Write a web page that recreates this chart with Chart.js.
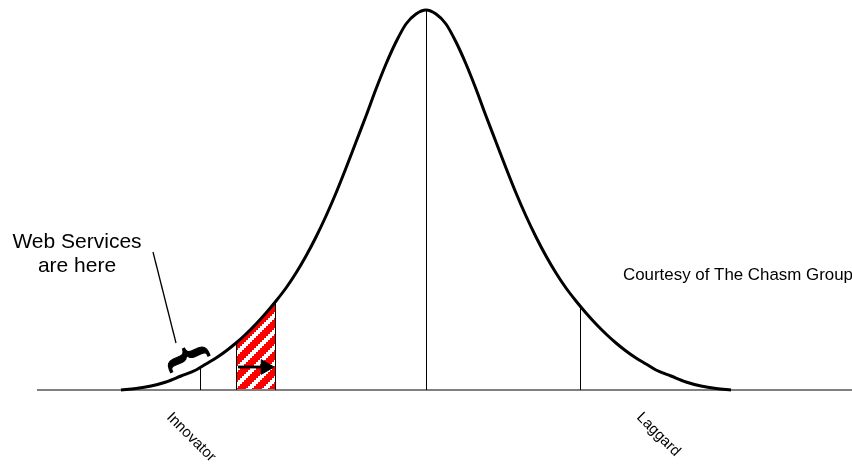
<!DOCTYPE html>
<html>
<head>
<meta charset="utf-8">
<script src="https://cdn.jsdelivr.net/npm/chart.js@4.4.1/dist/chart.umd.min.js"></script>
<style>
html, body { margin: 0; padding: 0; background: #fff; }
canvas { display: block; }
</style>
</head>
<body>
<canvas id="chasm" width="852" height="468"></canvas>
<script>
// adoption curve (x position, height above baseline)
const curveX = [121, 136, 151, 166, 181, 196, 206, 216, 226, 236, 246, 256, 266, 276, 286, 296, 306, 316,
  326, 336, 346, 356, 366, 376, 386, 396, 406, 416, 426,
  436, 446, 456, 466, 476, 486, 496, 506, 516, 526, 536, 546, 556, 566, 576, 586, 596, 606, 616,
  626, 636, 646, 656, 671, 686, 701, 716, 731];
const curveY = [0, 1.5, 4, 8, 14, 20, 26, 32, 39, 47, 56, 66, 77, 89, 102, 117, 134, 153,
  174, 197, 222, 248, 274, 301, 326, 348, 366, 376, 380,
  376, 366, 348, 326, 301, 274, 248, 222, 197, 174, 153, 134, 117, 102, 89, 77, 66, 56, 47,
  39, 32, 26, 20, 14, 8, 4, 1.5, 0];

// segment dividers under the curve
const dividerX = [200.5, 426.5, 580.5];
const dividerTop = [22, 380, 84];

// hatched "here" slice
const hatchX = [236.5, 246, 256, 266, 275.5];
const hatchY = [47, 56, 66, 77, 88.5];

// arrow inside the slice
const arrowX = [238, 265.5];
const arrowY = [23, 23];

// leader line from the note to the brace
const leaderX = [153, 176];
const leaderY = [138, 47];

const axisX = [37, 852];
const stageLabels = ['Innovator', 'Laggard'];
const noteLines = ['Web Services', 'are here'];
const creditText = 'Courtesy of The Chasm Group';

const toPoints = (xs, ys) => xs.map((x, i) => ({ x: x, y: ys[i] }));

// red / white diagonal stripes, blocky like the original fill
const makeStripes = () => {
  const size = 16;
  const step = 2;
  const c = document.createElement('canvas');
  c.width = size;
  c.height = size;
  const g = c.getContext('2d');
  const img = g.createImageData(size, size);
  for (let j = 0; j < size; j++) {
    for (let i = 0; i < size; i++) {
      const k = (j * size + i) * 4;
      const red = ((Math.floor(i / step) * step + Math.floor(j / step) * step) % size) < 9;
      img.data[k] = 255;
      img.data[k + 1] = red ? 0 : 255;
      img.data[k + 2] = red ? 0 : 255;
      img.data[k + 3] = 255;
    }
  }
  g.putImageData(img, 0, 0);
  return g.createPattern(c, 'repeat');
};

const lineSet = (data, color, width, extra) => Object.assign({
  data: data,
  borderColor: color,
  borderWidth: width,
  pointRadius: 0,
  fill: false,
  tension: 0,
  clip: false
}, extra || {});

const datasets = [
  lineSet(toPoints(arrowX, arrowY), '#000', 2.8, {
    pointRadius: [0, 8.5],
    pointStyle: 'triangle',
    rotation: 90,
    pointBackgroundColor: '#000',
    pointBorderColor: '#000',
    pointBorderWidth: 1
  }),
  lineSet(toPoints(curveX, curveY), '#000', 3, { cubicInterpolationMode: 'monotone' }),
  lineSet(toPoints(leaderX, leaderY), '#000', 1.3),
  ...dividerX.map((x, i) => lineSet(toPoints([x, x], [0, dividerTop[i]]), '#000', 1)),
  lineSet(toPoints([hatchX[0], hatchX[0]], [0, hatchY[0]]), '#000', 1),
  lineSet(toPoints([hatchX[hatchX.length - 1], hatchX[hatchX.length - 1]], [0, hatchY[hatchY.length - 1]]), '#000', 1),
  lineSet(toPoints(axisX, [0, 0]), '#808080', 2),
  lineSet(toPoints(hatchX, hatchY), 'rgba(0,0,0,0)', 0, { fill: 'origin', backgroundColor: makeStripes() })
];

const notesPlugin = {
  id: 'notes',
  afterDraw(chart) {
    const ctx = chart.ctx;
    const x = chart.scales.x;
    const y = chart.scales.y;
    ctx.save();
    ctx.fillStyle = '#000';

    // note text
    ctx.font = '21px "Liberation Sans", Arial, sans-serif';
    ctx.textAlign = 'center';
    ctx.textBaseline = 'alphabetic';
    ctx.fillText(noteLines[0], x.getPixelForValue(77), y.getPixelForValue(142));
    ctx.fillText(noteLines[1], x.getPixelForValue(77), y.getPixelForValue(118));

    // credit
    ctx.font = '16.9px "Liberation Sans", Arial, sans-serif';
    ctx.textAlign = 'left';
    ctx.fillText(creditText, x.getPixelForValue(623), y.getPixelForValue(110));

    // brace
    ctx.save();
    ctx.translate(x.getPixelForValue(186), y.getPixelForValue(33));
    ctx.rotate(66 * Math.PI / 180);
    ctx.font = 'bold 52px "Liberation Serif", serif';
    ctx.textAlign = 'center';
    ctx.textBaseline = 'middle';
    ctx.lineWidth = 1.2;
    ctx.strokeStyle = '#000';
    ctx.fillText('{', 0, 0);
    ctx.strokeText('{', 0, 0);
    ctx.restore();

    // stage labels under the axis
    const labelAt = [166, 636];
    ctx.font = '15px "Liberation Sans", Arial, sans-serif';
    stageLabels.forEach((txt, i) => {
      ctx.save();
      ctx.translate(x.getPixelForValue(labelAt[i]), y.getPixelForValue(0) + 28);
      ctx.rotate(Math.PI / 4);
      ctx.textAlign = 'left';
      ctx.fillText(txt, 0, 0);
      ctx.restore();
    });
    ctx.restore();
  }
};

new Chart(document.getElementById('chasm').getContext('2d'), {
  type: 'line',
  data: { datasets: datasets },
  options: {
    responsive: false,
    animation: false,
    layout: { autoPadding: false, padding: { left: 0, right: 0, top: 0, bottom: 78 } },
    scales: {
      x: { type: 'linear', min: 0, max: 852, display: false },
      y: { type: 'linear', min: 0, max: 390, display: false }
    },
    plugins: {
      legend: { display: false },
      tooltip: { enabled: false }
    }
  },
  plugins: [notesPlugin]
});
</script>
</body>
</html>
